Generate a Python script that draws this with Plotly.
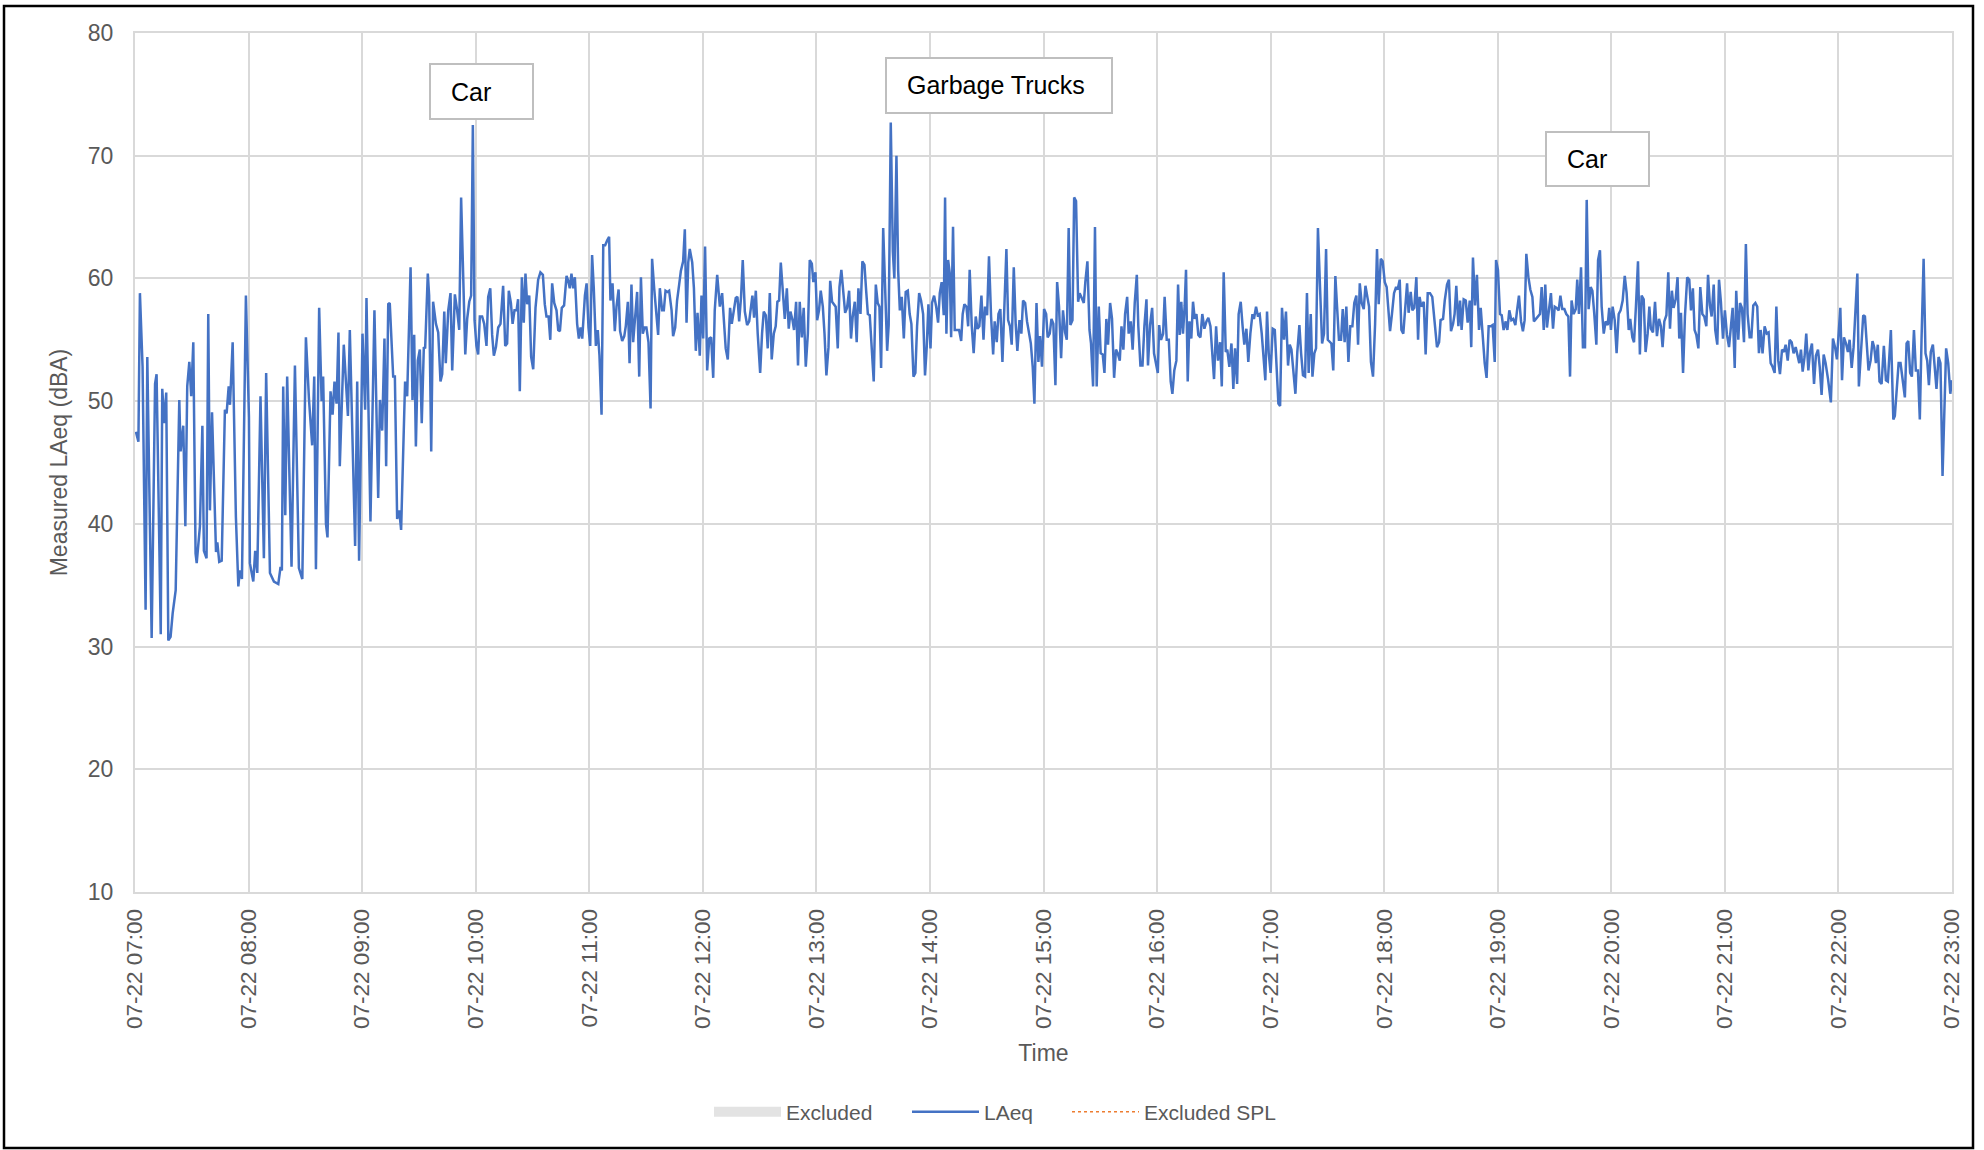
import pandas as pd
import plotly.graph_objects as go

# LAeq readings, (minutes after 07:00, dBA) in segments
seg_0700 = [
    (0.5, 47.5), (1.8, 46.7), (2.6, 58.8), (4.0, 52.8), (5.6, 33.0), (6.5, 53.6), (8.8, 30.7),
    (10.6, 51.4), (11.4, 52.2), (13.6, 31.0), (14.4, 51.0), (15.5, 48.2), (16.5, 50.7), (17.6, 30.5),
    (18.8, 30.8), (19.9, 32.7), (21.5, 34.6), (23.4, 50.1), (24.1, 45.9), (25.5, 48.0), (26.6, 39.8),
    (27.6, 51.2), (28.7, 53.2), (29.7, 50.4), (30.8, 54.8), (32.0, 37.6), (32.6, 36.8), (34.3, 39.8),
    (35.6, 48.0), (36.4, 37.8), (37.8, 37.2), (38.7, 57.1), (39.6, 41.1), (40.7, 49.1), (42.8, 37.7),
    (43.5, 38.5), (44.5, 36.9), (45.8, 37.0), (47.5, 49.3), (48.4, 49.0), (49.5, 51.2), (50.2, 49.7),
    (51.6, 54.8), (53.3, 40.6), (54.6, 34.9), (55.4, 36.2), (56.5, 35.5), (58.6, 58.6), (60.2, 48.7),
    (60.7, 36.8), (62.5, 35.3), (63.5, 37.8), (64.6, 36.0), (66.3, 50.4), (68.1, 37.2), (69.3, 52.3),
    (71.3, 36.0), (73.4, 35.3), (75.7, 35.1), (76.9, 36.5), (77.6, 36.2), (78.3, 51.2), (79.4, 40.7),
    (80.4, 52.0), (82.7, 36.5), (84.5, 52.9), (86.6, 36.4), (88.4, 35.5), (90.3, 55.2), (91.9, 50.2),
    (93.6, 46.4), (94.7, 52.0), (95.6, 36.3), (97.3, 57.6), (98.6, 50.0), (99.4, 52.0), (100.9, 40.0),
    (101.7, 38.9), (103.3, 50.8), (104.4, 48.9), (105.4, 51.6), (106.5, 49.8), (107.5, 55.6), (108.2, 44.7),
    (110.3, 54.6), (112.5, 48.8), (113.5, 55.8), (116.3, 38.2), (117.4, 51.6), (118.4, 37.0), (120.2, 55.5),
    (121.6, 49.3), (122.3, 58.4), (124.4, 40.2), (126.5, 57.4), (128.5, 42.1), (129.4, 50.1), (130.6, 47.6),
    (131.8, 55.1), (132.7, 44.7), (133.8, 57.9), (134.6, 58.0), (136.4, 52.0), (137.3, 52.0), (138.5, 40.4),
    (139.6, 41.1), (140.6, 39.5), (142.7, 51.6), (143.8, 50.4), (145.6, 60.9), (146.6, 50.1), (147.5, 55.4),
    (148.4, 46.3), (149.4, 53.3), (150.5, 54.2), (151.5, 48.2), (152.6, 54.4), (153.3, 54.3), (154.7, 60.4),
]

seg_0935 = [
    (155.4, 58.6), (156.5, 45.9), (157.5, 58.1), (159.0, 56.3), (160.2, 55.6), (161.4, 51.6), (162.3, 52.2),
    (163.4, 57.3), (164.2, 53.1), (165.5, 57.4), (166.7, 58.8), (167.6, 52.5), (169.0, 58.7), (170.2, 57.4),
    (171.3, 55.8), (172.3, 66.6), (173.4, 60.3), (174.5, 53.8), (175.5, 56.7), (176.6, 58.1), (177.6, 58.6),
    (178.5, 72.5), (179.4, 56.6), (180.4, 54.5), (181.3, 53.8), (182.2, 56.9), (183.4, 56.9), (184.5, 56.3),
    (185.7, 54.5), (186.6, 58.5), (187.7, 59.2), (188.7, 55.4), (189.6, 53.7), (190.7, 54.4), (191.9, 56.0),
    (193.1, 56.3), (194.5, 59.4), (195.6, 54.5), (196.6, 54.7), (197.5, 59.0), (198.6, 58.0), (199.5, 56.3),
    (200.5, 57.4), (201.6, 57.4), (202.4, 58.3), (203.3, 50.8), (204.4, 60.1), (205.4, 56.4), (206.3, 60.4),
    (207.2, 57.9), (208.3, 58.6), (209.3, 53.6), (210.4, 52.6), (211.6, 57.6), (213.0, 59.9), (214.2, 60.5),
    (215.5, 60.3), (216.5, 57.9), (217.4, 56.9), (218.5, 56.9), (219.4, 55.0), (220.4, 59.6), (221.5, 58.0),
    (222.7, 57.4), (223.6, 55.8), (224.5, 55.7), (225.5, 57.6), (226.7, 57.8), (228.0, 60.2), (228.9, 59.8),
    (229.7, 59.2), (230.6, 60.4), (231.5, 59.2), (232.4, 60.1), (233.6, 56.3), (234.5, 55.1), (235.4, 56.0),
    (236.3, 55.1), (237.7, 58.6), (238.6, 59.6), (239.6, 56.0), (240.5, 54.5), (241.5, 61.9), (242.4, 59.2),
    (243.5, 54.5), (244.5, 55.8), (245.4, 53.7), (246.5, 48.9), (247.4, 62.7), (248.4, 62.7), (249.5, 63.1),
    (250.5, 63.4), (251.2, 58.2), (252.3, 59.6), (253.5, 55.7), (254.4, 57.7), (255.5, 59.1), (256.3, 55.7),
    (257.4, 54.9), (258.5, 55.3), (259.3, 56.1), (260.4, 58.1), (261.3, 53.1), (262.3, 59.5), (263.2, 54.8),
    (264.3, 56.9), (265.3, 58.9), (266.4, 52.0), (267.3, 60.1), (268.3, 55.5), (269.2, 56.0), (270.2, 56.0),
    (271.3, 54.8), (272.4, 49.4), (273.2, 61.6), (274.3, 59.2), (275.4, 57.4), (276.4, 55.4), (277.3, 59.2),
    (278.5, 57.4), (279.4, 57.4), (280.3, 59.0), (281.3, 58.9), (282.2, 59.0), (283.5, 57.4), (284.3, 55.3),
    (285.4, 56.0), (286.4, 58.2), (287.5, 59.5), (288.4, 60.6), (289.6, 61.4), (290.5, 64.0), (291.4, 56.4),
    (292.3, 61.3), (293.1, 62.4), (294.4, 61.3), (295.3, 59.2), (296.3, 54.1), (297.2, 57.2), (298.4, 53.7),
    (299.3, 58.6), (300.2, 55.1), (301.2, 62.6), (302.3, 52.5), (303.4, 55.1), (304.4, 55.2), (305.5, 51.9),
    (306.3, 57.4), (307.6, 60.3), (309.0, 57.7),
]

seg_1210 = [
    (310.2, 58.8), (311.1, 56.9), (312.1, 54.3), (313.2, 53.4), (314.4, 57.6), (315.3, 56.3), (316.4, 57.4),
    (317.4, 58.4), (318.3, 58.5), (319.2, 56.5), (320.2, 58.5), (321.1, 61.5), (322.2, 57.3), (323.4, 56.2),
    (324.5, 56.5), (325.3, 57.6), (326.2, 58.6), (327.1, 56.8), (328.0, 59.0), (329.0, 55.5), (330.3, 52.3),
    (331.3, 55.5), (332.2, 57.3), (333.3, 57.0), (334.3, 54.3), (335.4, 58.8), (336.4, 53.4), (337.5, 55.5),
    (338.5, 56.1), (339.4, 58.1), (340.3, 58.2), (341.2, 61.3), (342.2, 59.3), (343.3, 56.7), (344.4, 59.2),
    (345.4, 55.9), (346.3, 57.3), (347.4, 56.6), (348.2, 55.8), (349.3, 58.1), (350.3, 52.9), (351.2, 58.1),
    (352.3, 55.2), (353.3, 57.6), (354.4, 52.8), (355.5, 55.5), (356.5, 61.5), (357.6, 61.2), (358.4, 59.7),
    (359.5, 60.5), (360.4, 56.6), (361.4, 57.4), (362.3, 59.0), (363.4, 57.7), (364.3, 55.5), (365.3, 52.1),
    (366.4, 54.4), (367.3, 59.8), (368.3, 58.1), (369.4, 57.8), (370.2, 57.7), (371.3, 54.3), (372.2, 59.3),
    (373.2, 60.7), (374.3, 58.8), (375.2, 57.2), (376.2, 57.6), (377.3, 59.0), (378.3, 55.1), (379.2, 56.9),
    (380.3, 58.1), (381.3, 54.8), (382.2, 59.2), (383.3, 57.1), (384.3, 61.4), (385.4, 61.1), (386.3, 59.0),
    (387.2, 57.1), (388.2, 57.0), (389.3, 54.4), (390.3, 51.6), (391.4, 59.5), (392.4, 58.0), (393.3, 57.7),
    (394.2, 52.7), (395.3, 64.1), (396.3, 59.7), (397.4, 54.1), (398.2, 56.2), (399.3, 72.7), (400.4, 62.2),
    (401.2, 60.0), (402.3, 70.0), (403.2, 60.7), (404.1, 57.4), (405.1, 58.5), (406.2, 55.1), (407.2, 58.9),
    (408.3, 59.0), (409.3, 57.1), (410.2, 56.3), (411.3, 52.0), (412.3, 52.3), (413.2, 56.1), (414.3, 58.8),
    (415.3, 58.2), (416.4, 57.1), (417.4, 52.1), (418.3, 54.4), (419.2, 57.9), (420.3, 54.3), (421.1, 58.0),
    (422.2, 58.6), (423.3, 57.7), (424.3, 56.4), (425.2, 58.8),
]

seg_1406 = [
    (426.2, 59.7), (427.3, 57.0), (428.0, 66.6), (428.7, 55.5), (429.6, 61.5), (430.5, 60.4), (431.2, 55.2),
    (432.2, 64.2), (433.1, 55.8), (434.3, 55.8), (435.4, 55.8), (436.5, 54.9), (437.3, 57.1), (438.2, 57.9),
    (439.3, 57.7), (440.2, 56.1), (441.0, 60.7), (442.1, 56.1), (443.1, 53.9), (444.2, 56.9), (445.1, 55.9),
    (446.1, 56.1), (447.2, 58.6), (448.3, 55.0), (449.1, 57.7), (450.2, 57.0), (451.2, 61.8), (452.3, 56.9),
    (453.4, 53.8), (454.2, 56.5), (455.3, 54.8), (456.2, 57.1), (457.2, 57.5), (458.3, 53.2), (459.3, 56.9),
    (460.4, 62.4), (461.3, 56.6), (462.3, 56.1), (463.2, 54.6), (464.3, 60.9), (465.3, 56.3), (466.2, 54.1),
    (467.3, 56.6), (468.3, 55.5), (469.2, 58.2), (470.3, 58.0), (471.3, 56.5), (472.4, 55.5), (473.3, 54.7),
    (474.3, 52.8), (475.2, 49.8), (476.3, 58.0), (477.3, 53.2), (478.2, 55.3), (479.2, 52.8), (480.3, 57.5),
    (481.4, 57.1), (482.2, 55.2), (483.3, 55.5), (484.2, 56.7), (485.2, 56.3), (486.3, 51.3), (487.2, 59.7),
    (488.2, 57.7), (489.3, 53.5), (490.3, 57.4), (491.4, 55.6), (492.3, 55.0), (493.3, 64.1), (494.2, 56.2),
    (495.3, 56.6), (496.2, 66.6), (497.2, 66.3), (498.3, 58.1), (499.1, 58.8), (500.2, 58.4), (501.3, 58.0),
    (502.1, 59.7), (503.2, 61.4), (504.3, 55.8), (505.1, 54.7), (506.2, 51.2), (507.2, 64.2), (508.1, 51.2),
    (509.2, 57.7), (510.2, 53.9), (511.3, 53.8), (512.2, 52.3), (513.2, 56.7), (514.1, 54.6), (515.2, 58.0),
    (516.2, 56.7), (517.3, 51.9), (518.3, 54.2), (519.2, 53.9), (520.3, 53.3), (521.2, 56.1), (522.2, 54.2),
    (523.1, 57.1), (524.2, 58.5), (525.0, 55.5), (526.1, 56.5), (527.1, 54.2), (528.2, 58.0), (529.3, 60.3),
    (530.1, 56.1), (531.2, 52.9), (532.3, 52.9), (533.3, 56.1), (534.4, 58.3), (535.2, 52.9), (536.3, 56.2),
    (537.4, 57.6), (538.4, 53.9), (539.5, 53.1), (540.4, 52.3), (541.1, 56.2), (542.1, 55.0), (543.2, 55.5),
    (544.0, 58.5), (545.1, 55.0), (546.2, 55.0),
]

seg_1607 = [
    (547.2, 51.6), (548.1, 50.6), (549.1, 52.5), (550.2, 53.3), (551.1, 59.5), (552.0, 55.4), (552.8, 58.1),
    (553.7, 55.5), (554.6, 57.8), (555.3, 60.7), (556.2, 51.6), (557.1, 56.5), (558.1, 55.1), (559.0, 58.1),
    (559.9, 56.7), (560.8, 57.1), (561.8, 55.4), (562.9, 55.2), (563.9, 57.1), (565.0, 55.9), (566.1, 56.5),
    (567.1, 56.8), (568.2, 56.1), (569.0, 53.9), (570.1, 51.8), (571.2, 56.1), (572.2, 53.3), (573.3, 54.8),
    (574.2, 51.2), (575.2, 60.5), (576.3, 54.0), (577.1, 54.2), (578.2, 52.8), (579.3, 54.7), (580.3, 51.0),
    (581.2, 54.3), (582.3, 51.4), (583.1, 57.1), (584.2, 58.1), (585.2, 56.1), (586.1, 54.6), (587.2, 55.9),
    (588.2, 53.2), (589.3, 55.5), (590.4, 57.1), (591.2, 56.7), (592.3, 57.7), (593.2, 57.0), (594.2, 57.1),
    (595.3, 55.5), (596.3, 53.5), (597.2, 51.7), (598.1, 57.3), (599.0, 53.9), (600.0, 52.3), (601.1, 55.9),
    (602.2, 55.8), (603.0, 53.6), (604.1, 49.8), (605.0, 49.6), (606.0, 57.6), (607.1, 55.0), (608.1, 57.3),
    (609.2, 52.9), (610.1, 54.6), (611.0, 54.2), (612.0, 52.3), (613.1, 50.6), (614.1, 54.0), (615.2, 56.2),
    (616.1, 53.9), (617.1, 52.1), (618.2, 52.0), (619.2, 58.8), (620.1, 52.3), (621.2, 57.1), (622.1, 52.0),
    (623.1, 53.9), (624.0, 54.3), (625.0, 64.1), (626.1, 59.3), (627.2, 54.7), (628.2, 55.5), (629.3, 62.4),
    (630.2, 55.0), (631.2, 54.8), (632.1, 54.7), (633.1, 52.5), (634.2, 60.2), (635.1, 57.7), (636.1, 55.0),
    (637.2, 55.0), (638.1, 57.5), (639.1, 54.8), (640.0, 57.7), (641.1, 53.2), (642.1, 56.1), (643.2, 56.1),
    (644.2, 58.0), (645.3, 58.6), (646.2, 54.6), (647.1, 59.6), (648.1, 58.0), (649.2, 57.5), (650.1, 59.4),
    (651.1, 58.5), (652.0, 57.7), (653.0, 53.2), (654.1, 52.0), (655.2, 56.3), (656.2, 62.4), (657.1, 57.9),
    (658.2, 61.6), (659.2, 61.4), (660.3, 59.7), (661.3, 59.3), (662.2, 57.1), (663.1, 55.7), (664.1, 57.1),
    (665.2, 58.8), (666.3, 59.3), (667.1, 59.1), (668.2, 59.9),
]

seg_1809 = [
    (669.1, 55.8), (670.1, 55.5), (671.0, 57.7), (672.1, 59.6), (672.9, 57.2), (674.0, 58.9), (674.9, 57.4),
    (675.9, 57.6), (677.0, 60.1), (677.9, 55.0), (678.7, 58.5), (679.6, 57.7), (680.9, 58.1), (681.9, 53.8),
    (683.0, 58.8), (684.2, 58.8), (685.4, 58.5), (686.7, 56.1), (687.9, 54.4), (689.0, 54.8), (689.8, 56.6),
    (691.1, 56.7), (692.0, 58.2), (693.2, 59.5), (694.2, 59.9), (695.3, 55.7), (696.4, 56.3), (697.2, 57.1),
    (698.1, 59.4), (699.2, 56.1), (700.1, 58.2), (700.9, 55.8), (702.0, 58.3), (703.1, 58.2), (704.1, 56.4),
    (705.2, 58.2), (706.0, 54.4), (706.9, 61.7), (708.0, 57.8), (709.0, 60.3), (710.1, 55.8), (711.0, 57.6),
    (712.0, 55.5), (713.1, 53.1), (714.1, 51.9), (715.2, 56.1), (716.3, 56.1), (717.3, 56.2), (718.4, 53.2),
    (719.1, 61.5), (720.1, 60.7), (721.2, 57.1), (722.1, 57.0), (723.1, 55.8), (724.2, 56.5), (725.1, 55.8),
    (726.1, 57.4), (727.2, 56.6), (728.2, 56.7), (729.3, 56.2), (730.2, 57.4), (731.2, 58.6), (732.3, 56.5),
    (733.3, 55.7), (734.2, 56.6), (735.1, 62.0), (736.2, 60.1), (737.2, 59.1), (738.3, 58.5), (739.1, 56.5),
    (740.2, 56.7), (741.3, 56.9), (742.3, 57.1), (743.2, 59.3), (744.3, 55.8), (745.1, 59.5), (746.0, 56.0),
    (747.1, 57.5), (748.1, 58.8), (749.2, 55.9), (750.1, 57.7), (751.1, 57.6), (752.2, 57.4), (753.1, 58.6),
    (754.1, 57.5), (755.2, 57.5), (756.2, 57.1), (757.3, 56.9), (758.2, 52.0), (759.0, 58.2), (760.1, 57.1),
    (761.2, 57.5), (762.0, 59.9), (762.9, 57.1), (764.0, 60.9), (765.0, 54.4), (766.1, 54.4), (767.0, 66.4),
    (768.0, 57.5), (769.1, 59.3), (770.0, 59.0), (771.0, 57.1), (772.1, 54.6), (773.0, 61.5), (774.0, 62.3),
    (774.9, 57.7), (776.0, 55.5), (777.0, 56.5), (778.1, 56.2), (778.9, 57.6), (779.8, 55.8), (780.7, 57.7),
    (781.8, 56.6), (782.8, 53.9), (783.9, 57.1), (784.9, 57.4), (786.0, 58.2), (787.1, 60.2), (788.1, 58.8),
    (789.2, 55.8),
]

seg_2010 = [
    (790.0, 56.7), (791.1, 55.2), (792.0, 54.8), (793.0, 57.7), (794.1, 61.4), (795.1, 53.8), (796.0, 58.6),
    (797.1, 58.3), (798.1, 54.0), (799.2, 55.5), (800.1, 57.7), (800.9, 55.9), (802.0, 55.6), (803.1, 58.1),
    (804.1, 55.3), (805.2, 56.7), (806.2, 56.1), (807.1, 54.4), (808.0, 56.5), (809.1, 57.0), (810.1, 60.5),
    (811.0, 55.9), (812.0, 59.0), (812.9, 57.6), (814.0, 58.3), (815.0, 60.1), (815.9, 55.1), (816.8, 57.2),
    (817.9, 52.3), (818.9, 56.9), (820.1, 60.1), (821.2, 59.9), (822.1, 57.4), (823.1, 59.2), (824.0, 55.8),
    (824.9, 55.4), (826.0, 54.3), (827.0, 59.3), (828.1, 57.1), (829.1, 56.9), (830.2, 56.1), (831.1, 60.3),
    (832.1, 57.8), (833.0, 56.9), (834.1, 59.5), (834.9, 55.8), (836.0, 54.6), (836.9, 59.9), (837.9, 58.1),
    (839.0, 55.1), (840.0, 57.4), (841.1, 55.4), (842.2, 54.4), (843.2, 56.1), (844.1, 57.6), (845.2, 52.7),
    (846.0, 59.0), (847.1, 55.0), (848.0, 58.0), (849.0, 57.6), (850.1, 54.8), (851.1, 62.8), (852.0, 57.1),
    (853.1, 55.2), (854.0, 55.2), (855.0, 57.8), (856.1, 58.0), (857.1, 57.7), (858.0, 53.9), (858.9, 55.8),
    (859.9, 53.9), (861.0, 56.1), (862.1, 55.5), (863.1, 55.6), (864.2, 53.1), (865.2, 52.8), (866.3, 52.3),
    (867.2, 57.7), (868.2, 53.3), (869.1, 52.2), (870.2, 54.2), (871.2, 54.0), (872.1, 54.6), (873.2, 53.3),
    (874.2, 55.0), (875.3, 54.8), (876.3, 53.9), (877.4, 54.4), (878.3, 53.7), (879.3, 53.1), (880.2, 54.2),
    (881.1, 52.4), (882.1, 53.6), (883.0, 55.5), (884.1, 52.5), (885.0, 54.0), (886.0, 54.7), (887.1, 51.4),
    (888.1, 53.7), (889.2, 54.2), (890.1, 52.8), (891.1, 50.5), (892.2, 53.8), (893.2, 53.1), (894.5, 51.8),
    (896.0, 49.9), (897.1, 55.1), (898.2, 54.4), (899.2, 53.4), (900.1, 55.8), (901.0, 57.6), (901.9, 51.7),
    (902.9, 55.2), (904.0, 54.7), (905.0, 54.0), (905.9, 55.0), (907.0, 52.7), (908.0, 54.4), (908.9, 56.9),
    (910.0, 60.4), (910.8, 51.2),
]

seg_2152 = [
    (912.0, 54.4), (913.1, 57.0), (914.0, 56.9), (914.9, 54.4), (915.9, 52.5), (917.0, 53.3), (918.0, 54.9),
    (918.9, 54.4), (919.8, 53.1), (920.8, 54.6), (921.7, 51.6), (922.8, 51.4), (924.0, 54.5), (925.1, 51.7),
    (926.1, 51.6), (927.7, 55.8), (929.0, 48.5), (929.8, 48.8), (930.9, 51.4), (931.8, 53.1), (932.8, 53.1),
    (933.9, 51.7), (935.1, 50.3), (936.0, 54.7), (936.9, 54.9), (937.9, 52.3), (938.8, 52.0), (939.9, 55.8),
    (940.9, 52.5), (942.0, 52.5), (943.0, 48.5), (943.9, 55.0), (945.0, 61.6), (946.0, 53.9), (946.9, 53.3),
    (947.8, 51.3), (948.8, 54.0), (949.9, 54.6), (950.8, 52.8), (951.8, 51.0), (952.9, 53.6), (953.9, 53.1),
    (955.0, 43.9), (956.1, 51.4), (956.9, 54.3), (958.0, 53.1), (959.1, 50.6), (960.0, 51.7),
]

notes = ["Car", "Garbage Trucks", "Car"]

# figure is 1984 x 1150, plot area in pixels
W, H = 1984, 1150
L, R, T, B = 135, 1952, 33, 892

def px(x):
    return (x - L) / (R - L)

def py(y):
    return (B - y) / (B - T)

GRAY = "#595959"
GRID = "#d9d9d9"
FONT = "Liberation Sans, Arial, sans-serif"

start = pd.Timestamp("2023-07-22 07:00")
df = pd.DataFrame(seg_0700 + seg_0935 + seg_1210 + seg_1406 + seg_1607 + seg_1809 + seg_2010 + seg_2152,
                  columns=["minute", "laeq"])
df["time"] = start + pd.to_timedelta(df["minute"], unit="m")

fig = go.Figure()
# no excluded periods on this day, the two "Excluded" series are empty
fig.add_trace(go.Scatter(x=[None], y=[None], name="Excluded", mode="lines",
                         line=dict(color="#e3e3e3", width=14), legendwidth=116))
fig.add_trace(go.Scatter(x=df["time"], y=df["laeq"], name="LAeq", mode="lines",
                         line=dict(color="#4472c4", width=2.5), legendwidth=78))
fig.add_trace(go.Scatter(x=[None], y=[None], name="Excluded SPL", mode="lines",
                         line=dict(color="#ed7d31", width=1.5, dash="dot"), legendwidth=130))

# annotation boxes (pixel boxes: x0, x1, y0, y1)
boxes = [(430, 533, 64, 119), (886, 1112, 58, 113), (1546, 1649, 132, 186)]
for (x0, x1, y0, y1), label in zip(boxes, notes):
    fig.add_shape(type="rect", xref="paper", yref="paper",
                  x0=px(x0), x1=px(x1), y0=py(y1), y1=py(y0),
                  line=dict(color="#bfbfbf", width=2), fillcolor="white", layer="above")
    fig.add_annotation(text=label, xref="paper", yref="paper", x=px(x0 + 19), y=py((y0 + y1) / 2),
                       xanchor="left", yanchor="middle", showarrow=False,
                       font=dict(family=FONT, size=25, color="black"))

# outer chart border
fig.add_shape(type="rect", xref="paper", yref="paper",
              x0=px(4), x1=px(1973), y0=py(1148), y1=py(6),
              line=dict(color="black", width=2.5), layer="above")

fig.update_layout(
    width=W, height=H,
    margin=dict(l=L, r=W - R, t=T, b=H - B),
    plot_bgcolor="white", paper_bgcolor="white",
    showlegend=True,
    legend=dict(orientation="h", x=px(709), xanchor="left", y=py(1112), yanchor="middle",
                font=dict(family=FONT, size=21, color=GRAY), itemwidth=67,
                entrywidthmode="pixels", bgcolor="rgba(0,0,0,0)"),
)

fig.update_xaxes(
    type="date", range=[start, start + pd.Timedelta(hours=16)],
    dtick=3600000, tick0=start, tickformat="%m-%d %H:%M", tickangle=-90,
    showgrid=True, gridcolor=GRID, gridwidth=2,
    showline=True, linecolor=GRID, linewidth=2, mirror=True,
    ticks="", ticklabelstandoff=6,
    tickfont=dict(family=FONT, size=22.5, color=GRAY),
    title=dict(text="Time", font=dict(family=FONT, size=23, color=GRAY), standoff=17),
)
fig.update_yaxes(
    range=[10, 80], dtick=10,
    showgrid=True, gridcolor=GRID, gridwidth=2,
    showline=True, linecolor=GRID, linewidth=2, mirror=True,
    ticks="", ticklabelstandoff=15, zeroline=False,
    tickfont=dict(family=FONT, size=23, color=GRAY),
    title=dict(text="Measured LAeq (dBA)", font=dict(family=FONT, size=23, color=GRAY), standoff=14),
)

# the page body has a default margin, drop it so the figure fills the window
fig.write_html("out.html", config={"displayModeBar": False},
               post_script="document.body.style.margin = '0';")
